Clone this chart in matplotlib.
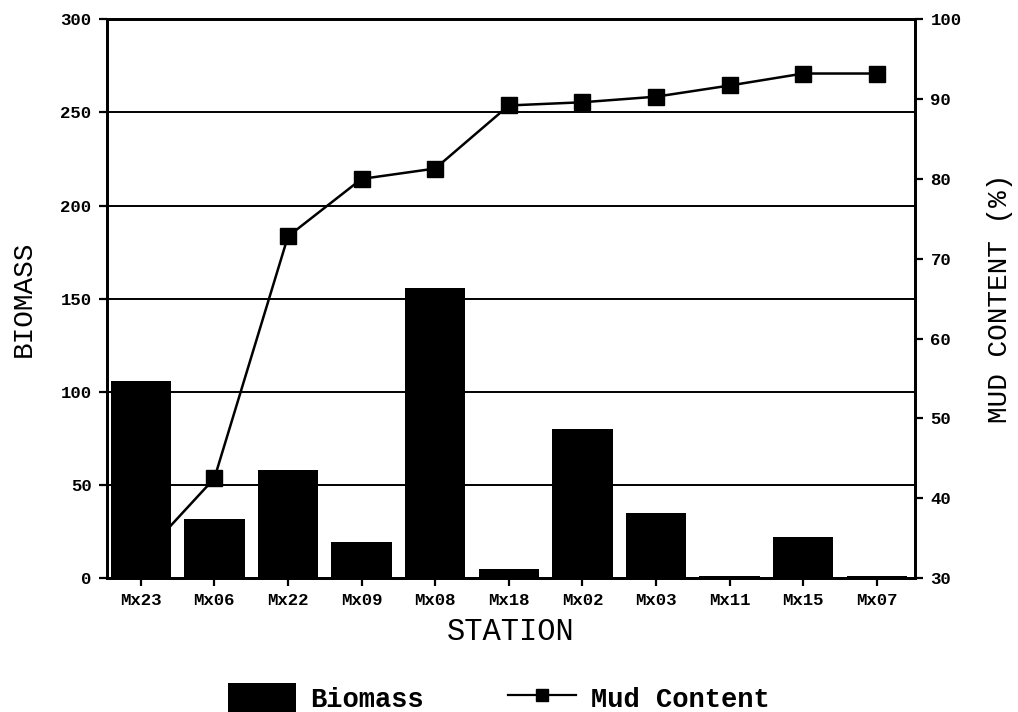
import matplotlib
matplotlib.use("Agg")
import matplotlib.pyplot as plt
from matplotlib.lines import Line2D
from matplotlib.patches import Patch

stations = ["Mx23", "Mx06", "Mx22", "Mx09", "Mx08", "Mx18",
            "Mx02", "Mx03", "Mx11", "Mx15", "Mx07"]
biomass = [106, 32, 58, 19.5, 155.5, 5, 80, 35, 1, 22, 1]
mud = [32.5, 42.5, 72.8, 80.0, 81.3, 89.2, 89.6, 90.3, 91.7, 93.2, 93.2]

biomass_ticks = [0, 50, 100, 150, 200, 250, 300]
mud_ticks = [30, 40, 50, 60, 70, 80, 90, 100]

MONO = "Liberation Mono"
INK = "black"

fig = plt.figure(figsize=(10.18, 7.12), dpi=100)
ax = fig.add_axes([0.105, 0.188, 0.794, 0.785])
ax2 = ax.twinx()
ax.set_zorder(ax2.get_zorder() + 1)   # bars sit over the mud line
ax.patch.set_visible(False)

x = list(range(len(stations)))
ax.bar(x, biomass, width=0.82, color=INK, edgecolor="none", zorder=3)
ax2.plot(x, mud, color=INK, lw=1.8, marker="s", ms=11, mfc=INK, mec=INK)

ax.set_xlim(-0.46, 10.52)
ax.set_ylim(0, 300)
ax2.set_ylim(30, 100)
ax.set_yticks(biomass_ticks)
ax2.set_yticks(mud_ticks)
ax.set_xticks(x)
ax.set_xticklabels(stations)

ax.yaxis.grid(True, color=INK, lw=1.4)
ax.set_axisbelow(True)

for a in (ax, ax2):
    for sp in a.spines.values():
        sp.set_linewidth(2.0)
        sp.set_color(INK)
    a.tick_params(direction="out", length=6, width=1.6, colors=INK)
for lab in ax.get_xticklabels() + ax.get_yticklabels() + ax2.get_yticklabels():
    lab.set_fontfamily(MONO)
    lab.set_fontweight("bold")
    lab.set_fontsize(12.5)
ax.tick_params(axis="x", pad=5)
ax.tick_params(axis="y", pad=5)
ax2.tick_params(axis="y", pad=5)

ax.set_xlabel("STATION", fontfamily=MONO, fontsize=22, labelpad=6)
ax.set_ylabel("BIOMASS", fontfamily=MONO, fontsize=20, labelpad=17)
ax2.set_ylabel("MUD CONTENT (%)", fontfamily=MONO, fontsize=20, labelpad=18)

handles = [Patch(facecolor=INK, edgecolor="none", label="Biomass"),
           Line2D([], [], color=INK, lw=1.6, marker="s", ms=9, label="Mud Content")]
fig.legend(handles=handles, loc="center", bbox_to_anchor=(0.49, 0.02), ncol=2,
           frameon=False, prop={"family": MONO, "weight": "bold", "size": 19.5},
           handlelength=2.5, handleheight=1.3, handletextpad=0.55,
           columnspacing=3.1)

fig.savefig("out.png", dpi=100, facecolor="white")
